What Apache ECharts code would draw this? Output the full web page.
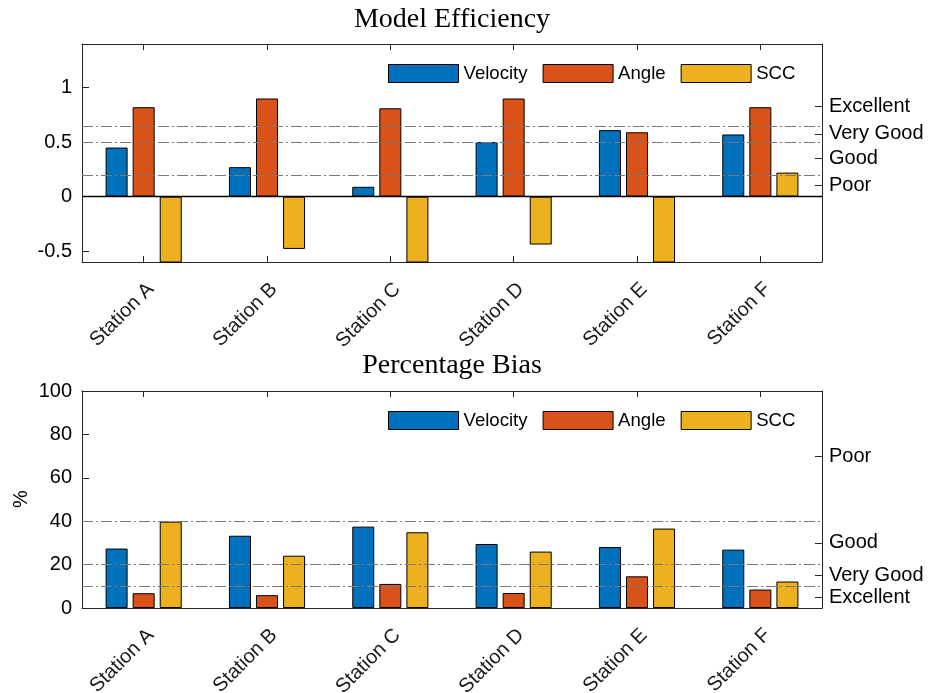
<!DOCTYPE html>
<html>
<head>
<meta charset="utf-8">
<script src="https://cdn.jsdelivr.net/npm/echarts@6/dist/echarts.min.js"></script>
<style>html,body{margin:0;padding:0;background:#fff}#c{width:934px;height:693px}</style>
</head>
<body>
<div id="c"></div>
<script>
const categories = ['Station A', 'Station B', 'Station C', 'Station D', 'Station E', 'Station F'];
const seriesNames = ['Velocity', 'Angle', 'SCC'];
// Model Efficiency values
const meVelocity = [0.45, 0.27, 0.09, 0.50, 0.61, 0.57];
const meAngle = [0.82, 0.90, 0.81, 0.90, 0.59, 0.82];
const meSCC = [-0.80, -0.48, -0.80, -0.44, -0.80, 0.22];
// Percentage Bias values
const pbVelocity = [27.4, 33.3, 37.5, 29.5, 28.1, 26.9];
const pbAngle = [6.8, 5.9, 11.1, 6.9, 14.6, 8.5];
const pbSCC = [39.8, 24.1, 34.9, 26.0, 36.6, 12.2];
// thresholds and rating labels
const meThresholds = [0.2, 0.5, 0.65];
const meRatingValues = [0.1, 0.35, 0.575, 0.825];
const meRatingLabels = ['Poor', 'Good', 'Very Good', 'Excellent'];
const meTickValues = [-0.5, 0, 0.5, 1];
const pbThresholds = [10, 20, 40];
const pbRatingValues = [5, 15, 30, 70];
const pbRatingLabels = ['Excellent', 'Very Good', 'Good', 'Poor'];
const pbTickValues = [0, 20, 40, 60, 80, 100];

const colors = ['#0072BD', '#D95319', '#EDB120'];
const axisColor = '#262626';
const sans = 'Liberation Sans';
const FS = 20;

const chart = echarts.init(document.getElementById('c'));

function ratingFormatter(vals, labels) {
  return function (v) {
    for (let i = 0; i < vals.length; i++) if (Math.abs(vals[i] - v) < 1e-6) return labels[i];
    return '';
  };
}

function xBottom(grid) {
  return {
    type: 'category', gridIndex: grid, data: categories, position: 'bottom',
    axisLine: { onZero: false, lineStyle: { color: axisColor, width: 1 } },
    axisTick: { show: true, inside: true, length: 6, alignWithLabel: true, lineStyle: { color: axisColor } },
    axisLabel: { rotate: 45, fontSize: FS, fontFamily: sans, color: '#1a1a1a', margin: 17, interval: 0, verticalAlign: 'top' },
    splitLine: { show: false }
  };
}
function xTop(grid) {
  return {
    type: 'category', gridIndex: grid, data: categories, position: 'top',
    axisLine: { onZero: false, lineStyle: { color: axisColor, width: 1 } },
    axisTick: { show: true, inside: true, length: 6, alignWithLabel: true, lineStyle: { color: axisColor } },
    axisLabel: { show: false }, splitLine: { show: false }
  };
}
function yLeft(grid, min, max, ticks) {
  return {
    type: 'value', gridIndex: grid, position: 'left', min: min, max: max,
    axisLine: { show: true, onZero: false, lineStyle: { color: axisColor, width: 1 } },
    axisTick: { show: true, inside: true, length: 7, customValues: ticks, lineStyle: { color: axisColor } },
    axisLabel: { customValues: ticks, fontSize: FS, fontFamily: sans, color: '#000', margin: 10 },
    splitLine: { show: false }
  };
}
function yRight(grid, min, max, vals, labels) {
  return {
    type: 'value', gridIndex: grid, position: 'right', min: min, max: max,
    axisLine: { show: true, onZero: false, lineStyle: { color: axisColor, width: 1 } },
    axisTick: { show: true, inside: true, length: 7, customValues: vals, lineStyle: { color: axisColor } },
    axisLabel: { customValues: vals, formatter: ratingFormatter(vals, labels), fontSize: FS, fontFamily: sans, color: '#000', margin: 7 },
    splitLine: { show: false }
  };
}

const dashStyle = { color: '#7a7a7a', width: 1.2, type: [11, 3, 2, 3] };
function markLines(thresholds, withZero) {
  const data = thresholds.map(v => ({ yAxis: v, lineStyle: dashStyle }));
  if (withZero) data.push({ yAxis: 0, lineStyle: { color: '#000', width: 1.3, type: 'solid' } });
  return { silent: true, symbol: ['none', 'none'], label: { show: false }, animation: false, data: data, z: 10 };
}

function barSeries(name, idx, data, xi, yi, ml) {
  const s = {
    name: name, type: 'bar', xAxisIndex: xi, yAxisIndex: yi, data: data,
    barWidth: 22, barGap: '23%',
    itemStyle: { color: colors[idx], borderColor: '#000', borderWidth: 1 },
    emphasis: { disabled: true }
  };
  if (ml) s.markLine = ml;
  return s;
}

const legendBase = {
  data: seriesNames, icon: 'rect', itemWidth: 70, itemHeight: 18, itemGap: 15, left: 383,
  textStyle: { fontSize: 18.6, fontFamily: sans, color: '#000' },
  itemStyle: { borderColor: '#000', borderWidth: 1 }
};

chart.setOption({
  animation: false,
  graphic: [
    { type: 'text', x: 452, y: 20, style: { text: 'Model Efficiency', font: '28px "Liberation Serif"', fill: '#000', textAlign: 'center', textVerticalAlign: 'middle' } },
    { type: 'text', x: 452, y: 366, style: { text: 'Percentage Bias', font: '28px "Liberation Serif"', fill: '#000', textAlign: 'center', textVerticalAlign: 'middle' } },
    { type: 'text', x: 21, y: 499, rotation: Math.PI / 2, style: { text: '%', font: '20px "Liberation Sans"', fill: '#000', textAlign: 'center', textVerticalAlign: 'middle' } }
  ],
  legend: [
    Object.assign({}, legendBase, { top: 59 }),
    Object.assign({}, legendBase, { top: 406 })
  ],
  grid: [
    { left: 82, width: 740, top: 44, height: 218, containLabel: false, outerBoundsMode: 'none' },
    { left: 82, width: 740, top: 391, height: 217, containLabel: false, outerBoundsMode: 'none' }
  ],
  xAxis: [xBottom(0), xTop(0), xBottom(1), xTop(1)],
  yAxis: [
    yLeft(0, -0.6, 1.4, meTickValues),
    yRight(0, -0.6, 1.4, meRatingValues, meRatingLabels),
    yLeft(1, 0, 100, pbTickValues),
    yRight(1, 0, 100, pbRatingValues, pbRatingLabels)
  ],
  series: [
    barSeries('Velocity', 0, meVelocity, 0, 0, markLines(meThresholds, true)),
    barSeries('Angle', 1, meAngle, 0, 0),
    barSeries('SCC', 2, meSCC, 0, 0),
    barSeries('Velocity', 0, pbVelocity, 2, 2, markLines(pbThresholds, false)),
    barSeries('Angle', 1, pbAngle, 2, 2),
    barSeries('SCC', 2, pbSCC, 2, 2)
  ]
});
</script>
</body>
</html>
